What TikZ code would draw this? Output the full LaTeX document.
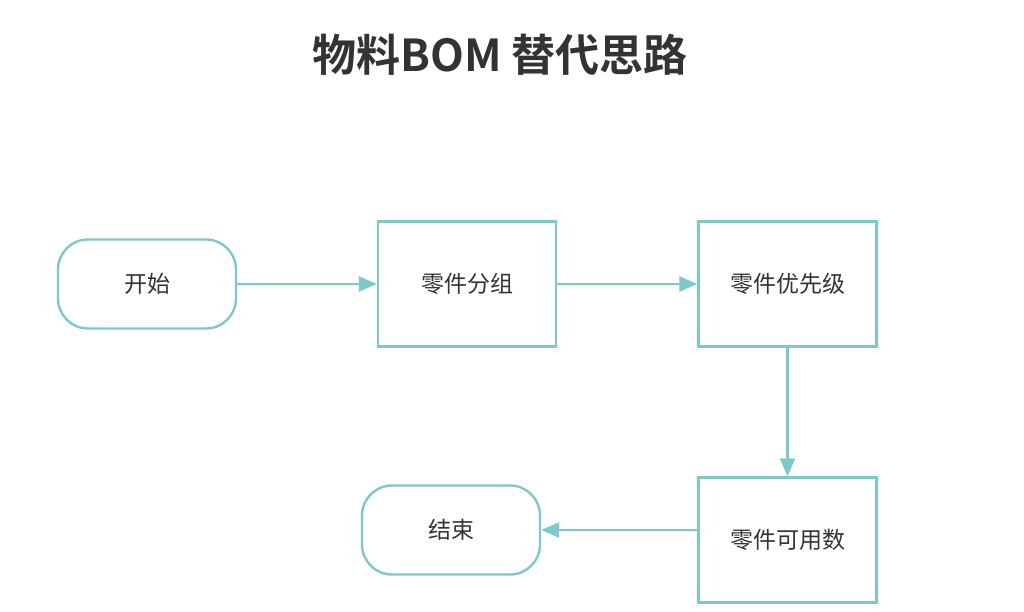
\documentclass[tikz,border=0pt]{standalone}
\usepackage{fontspec}
\setmainfont{Noto Sans CJK SC}[BoldFont={Noto Sans CJK SC Bold}]
\usetikzlibrary{positioning,arrows.meta}
\definecolor{flowline}{HTML}{7EC8C8}
\definecolor{flowtext}{HTML}{333333}
\tikzset{
  proc/.style={draw=flowline,line width=2.4pt,minimum width=178pt,minimum height=125pt,text=flowtext,font=\fontsize{23}{26}\selectfont},
  term/.style={draw=flowline,line width=2.4pt,rounded corners=30pt,minimum width=178pt,minimum height=89pt,text=flowtext,font=\fontsize{23}{26}\selectfont},
  flow/.style={draw=flowline,line width=2.4pt,-{Triangle[length=18pt,width=15pt]}}
}
\begin{document}
\begin{tikzpicture}[x=1pt,y=-1pt]
\useasboundingbox (0,0) rectangle (1024,612);

% title
\node[font=\fontsize{44}{48}\selectfont\bfseries,text=flowtext] (title) at (500,55) {物料BOM 替代思路};

% steps
\node[term] (start) at (147,284) {开始};
\node[proc] (group) at (467,284) {零件分组};
\node[proc] (prio) at (787.5,284) {零件优先级};
\node[proc] (avail) at (787.5,540) {零件可用数};
\node[term] (stop) at (451,530) {结束};

% connectors
\draw[flow] (start) -- (group);
\draw[flow] (group) -- (prio);
\draw[flow] (prio) -- (avail);
\draw[flow] (avail.west |- stop) -- (stop);
\end{tikzpicture}
\end{document}
